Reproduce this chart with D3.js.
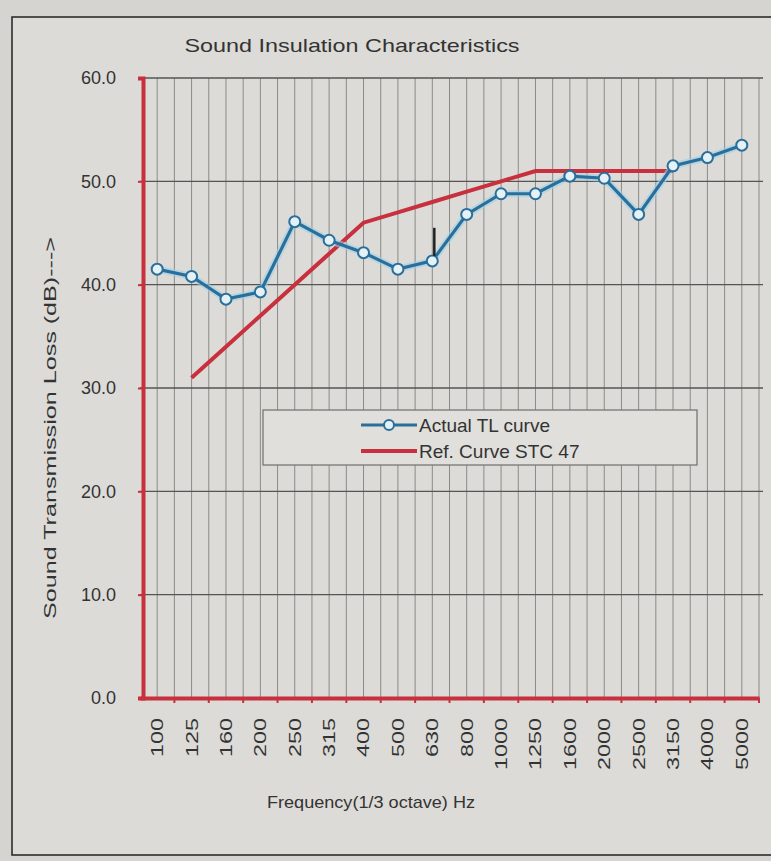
<!DOCTYPE html>
<html>
<head>
<meta charset="utf-8">
<script src="https://cdn.jsdelivr.net/npm/d3@7"></script>
<style>
body { margin: 0; background: #d6d6d3; }
text { font-family: "Liberation Sans", Arial, sans-serif; fill: #333; }
</style>
</head>
<body>
<svg id="chart" width="771" height="861"></svg>
<script>
// Data ==================================================================
var freqs = ["100", "125", "160", "200", "250", "315", "400", "500", "630",
	"800", "1000", "1250", "1600", "2000", "2500", "3150", "4000", "5000"];
var actualTL = [41.5, 40.8, 38.6, 39.3, 46.1, 44.3, 43.1, 41.5, 42.3,
	46.8, 48.8, 48.8, 50.5, 50.3, 46.8, 51.5, 52.3, 53.5];
// reference contour runs 125 .. 3150 Hz
var refFreqs = ["125", "160", "200", "250", "315", "400", "500", "630",
	"800", "1000", "1250", "1600", "2000", "2500", "3150"];
var refSTC = [31, 34, 37, 40, 43, 46, 47, 48, 49, 50, 51, 51, 51, 51, 51];
var yTicks = [0, 10, 20, 30, 40, 50, 60];
// small deficiency marker drawn above the 630 Hz point
var markerFreq = "630";
var markerRange = [42.3, 45.5];

// Layout ================================================================
var svg = d3.select("#chart");
var plotLeft = 140, plotRight = 759, plotTop = 78, plotBottom = 698;
var font = "Liberation Sans, Arial, sans-serif";

svg.append("rect")
	.attr("x", 0).attr("y", 0).attr("width", 771).attr("height", 861)
	.attr("fill", "#d5d4d0");
// outer frame
svg.append("rect")
	.attr("x", 12).attr("y", 17).attr("width", 760).attr("height", 838)
	.attr("fill", "#dcdbd7")
	.attr("stroke", "#222").attr("stroke-width", 1.5);

var x = d3.scaleBand().domain(freqs).range([plotLeft, plotRight]);
var y = d3.scaleLinear().domain([0, 60]).range([plotBottom, plotTop]);
var bw = x.bandwidth();

// Grid ==================================================================
var grid = svg.append("g").attr("class", "grid");
var vLines = [];
freqs.forEach(function (f) {
	vLines.push(x(f) + bw / 2);
	vLines.push(x(f) + bw);
});
grid.selectAll("line.v").data(vLines).enter().append("line")
	.attr("class", "v")
	.attr("x1", function (d) { return d; })
	.attr("x2", function (d) { return d; })
	.attr("y1", y(60)).attr("y2", y(0))
	.attr("stroke", "#8a8a88").attr("stroke-width", 1);
grid.selectAll("line.h").data(yTicks.slice(1)).enter().append("line")
	.attr("class", "h")
	.attr("x1", plotLeft).attr("x2", plotRight + 4)
	.attr("y1", function (d) { return y(d); })
	.attr("y2", function (d) { return y(d); })
	.attr("stroke", "#555").attr("stroke-width", 1.3);

// Axes ==================================================================
var red = "#c8303d";
var yAxis = svg.append("g")
	.attr("transform", "translate(" + (plotLeft + 3) + ",0)")
	.call(d3.axisLeft(y).tickValues(yTicks).tickSize(5).tickPadding(22)
		.tickFormat(d3.format(".1f")));
yAxis.select(".domain").attr("stroke", red).attr("stroke-width", 4);
yAxis.selectAll(".tick line").attr("stroke", red).attr("stroke-width", 2);
yAxis.selectAll(".tick text")
	.attr("font-size", 18).attr("fill", "#333")
	.attr("font-family", font);

var xAxis = svg.append("g")
	.attr("transform", "translate(0," + plotBottom + ")")
	.call(d3.axisBottom(x).tickSize(0).tickPadding(0));
xAxis.select(".domain").attr("stroke", red).attr("stroke-width", 4);
xAxis.selectAll(".tick text")
	.attr("font-size", 17).attr("fill", "#333")
	.attr("font-family", font)
	.attr("text-anchor", "end")
	.attr("dy", "0.35em")
	.attr("textLength", function (d) { return d.length * 13; })
	.attr("lengthAdjust", "spacingAndGlyphs")
	.attr("transform", "translate(0,20) rotate(-90)");
// small ticks at band edges
xAxis.selectAll("line.bt").data(freqs).enter().append("line")
	.attr("class", "bt")
	.attr("x1", function (d) { return x(d) + bw; })
	.attr("x2", function (d) { return x(d) + bw; })
	.attr("y1", 0).attr("y2", 5)
	.attr("stroke", red).attr("stroke-width", 2);

// Series ================================================================
var blue = "#2a6f9b";
var actualLine = d3.line()
	.x(function (d, i) { return x(freqs[i]) + bw / 2; })
	.y(function (d) { return y(d); });
var refLine = d3.line()
	.x(function (d, i) { return x(refFreqs[i]) + bw / 2; })
	.y(function (d) { return y(d); });

svg.append("path").datum(refSTC)
	.attr("d", refLine)
	.attr("fill", "none").attr("stroke", red).attr("stroke-width", 4);

svg.append("path").datum(actualTL)
	.attr("d", actualLine)
	.attr("fill", "none").attr("stroke", "#9fd0e8").attr("stroke-width", 7)
	.attr("stroke-opacity", 0.6);
svg.append("path").datum(actualTL)
	.attr("d", actualLine)
	.attr("fill", "none").attr("stroke", blue).attr("stroke-width", 3.2);

svg.selectAll("circle.pt").data(actualTL).enter().append("circle")
	.attr("class", "pt")
	.attr("cx", function (d, i) { return x(freqs[i]) + bw / 2; })
	.attr("cy", function (d) { return y(d); })
	.attr("r", 5.5)
	.attr("fill", "#e4f1f6").attr("stroke", blue).attr("stroke-width", 2);

svg.append("line")
	.attr("x1", x(markerFreq) + bw / 2 + 2).attr("x2", x(markerFreq) + bw / 2 + 2)
	.attr("y1", y(markerRange[0]) - 5).attr("y2", y(markerRange[1]))
	.attr("stroke", "#222").attr("stroke-width", 2.5);

// Legend ================================================================
var legend = svg.append("g").attr("transform", "translate(263,410)");
legend.append("rect")
	.attr("width", 434).attr("height", 55)
	.attr("fill", "#e0dfdb").attr("stroke", "#777").attr("stroke-width", 1.3);
legend.append("line")
	.attr("x1", 98).attr("x2", 154).attr("y1", 15).attr("y2", 15)
	.attr("stroke", blue).attr("stroke-width", 3);
legend.append("circle")
	.attr("cx", 126).attr("cy", 15).attr("r", 5)
	.attr("fill", "#e4f1f6").attr("stroke", blue).attr("stroke-width", 2);
legend.append("text")
	.attr("x", 156).attr("y", 22).attr("font-size", 19)
	.text("Actual TL curve");
legend.append("line")
	.attr("x1", 98).attr("x2", 154).attr("y1", 41).attr("y2", 41)
	.attr("stroke", red).attr("stroke-width", 4);
legend.append("text")
	.attr("x", 156).attr("y", 48).attr("font-size", 19)
	.text("Ref. Curve STC 47");

// Titles ================================================================
svg.append("text")
	.attr("x", 352).attr("y", 52)
	.attr("text-anchor", "middle").attr("font-size", 19)
	.attr("textLength", 335).attr("lengthAdjust", "spacingAndGlyphs")
	.text("Sound Insulation Characteristics");
svg.append("text")
	.attr("transform", "translate(56,428) rotate(-90)")
	.attr("text-anchor", "middle").attr("font-size", 16)
	.attr("textLength", 382).attr("lengthAdjust", "spacingAndGlyphs")
	.text("Sound Transmission Loss (dB)--->");
svg.append("text")
	.attr("x", 371).attr("y", 808)
	.attr("text-anchor", "middle").attr("font-size", 17)
	.attr("textLength", 208).attr("lengthAdjust", "spacingAndGlyphs")
	.text("Frequency(1/3 octave) Hz");
</script>
</body>
</html>
